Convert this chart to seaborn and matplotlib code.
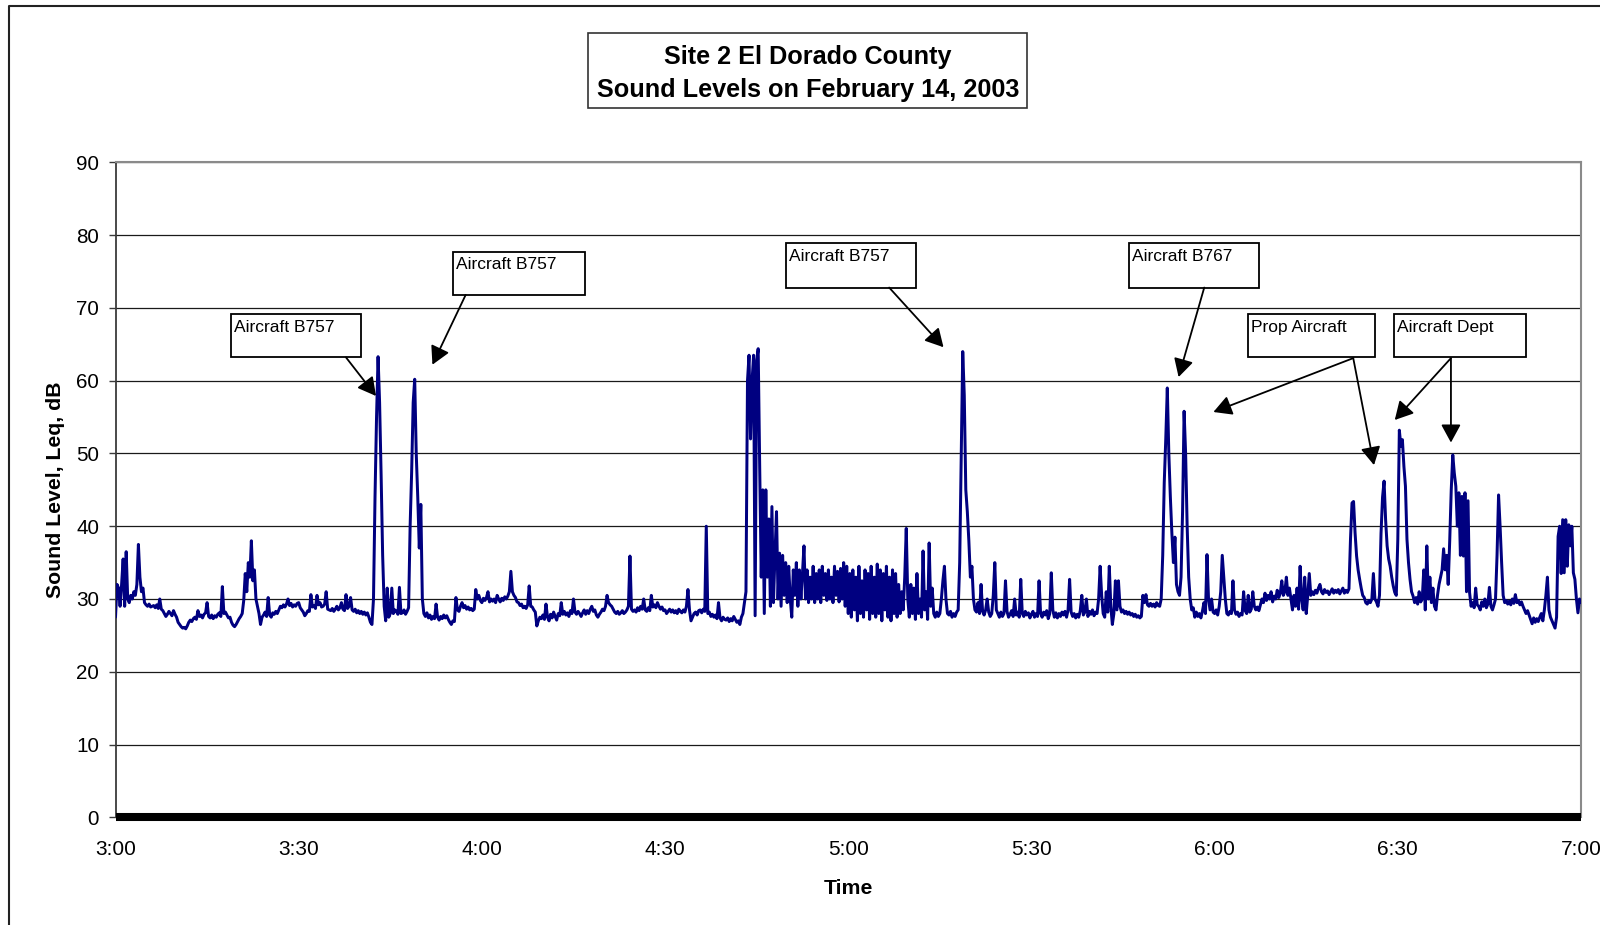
import numpy as np
import pandas as pd
import matplotlib
matplotlib.use("Agg")
import matplotlib.pyplot as plt
import matplotlib.transforms as mtransforms
from matplotlib.patches import Rectangle, FancyArrowPatch
from matplotlib.lines import Line2D
import seaborn as sns

# ---------------- data (15-second readings, dB) ----------------
step_minutes = 0.25

level_3h = [  # 3:00 - 3:59:45
    27.5, 32.0, 31.5, 29.0, 32.0, 35.5, 29.0, 36.5, 30.0, 29.5, 30.5, 30.0, 31.0, 30.5, 32.0, 37.5, 33.0, 31.0, 31.5, 29.5,
    29.2, 29.0, 29.3, 28.9, 29.0, 29.1, 28.8, 29.2, 28.7, 30.0, 28.6, 28.4, 28.0, 27.6, 27.9, 28.3, 28.0, 27.7, 28.4, 27.9,
    27.5, 26.8, 26.5, 26.2, 26.0, 26.1, 25.9, 26.3, 26.8, 27.1, 26.9, 27.3, 27.5, 27.2, 28.4, 27.6, 27.8, 27.4, 27.9, 28.1,
    29.5, 27.6, 27.4, 27.8, 27.3, 27.7, 27.5, 27.9, 28.1, 27.6, 31.7, 28.0, 28.2, 27.8, 27.4, 27.5, 26.8, 26.4, 26.2, 26.5,
    26.9, 27.3, 27.6, 28.0, 29.8, 33.5, 31.0, 35.0, 33.0, 38.0, 32.5, 34.0, 30.0, 29.0, 28.0, 26.5, 27.5, 27.8, 28.2, 27.6,
    30.2, 27.8, 27.5, 28.1, 27.9, 28.3, 28.0, 28.5, 29.0, 28.8, 29.2, 28.9, 29.3, 30.0, 29.1, 29.4, 28.9, 29.2, 29.0, 29.4,
    29.5, 28.8, 28.5, 28.2, 27.7, 28.0, 28.4, 28.3, 30.6, 28.9, 29.1, 28.7, 30.5, 29.2, 29.5, 28.9, 29.0, 29.3, 31.0, 28.6,
    28.5, 28.4, 28.7, 28.3, 28.6, 29.0, 28.5, 28.8, 29.5, 28.6, 28.4, 30.6, 28.7, 29.0, 30.2, 28.5, 28.3, 28.6, 28.1, 28.4,
    28.0, 28.3, 27.9, 28.2, 27.8, 28.1, 27.5, 26.8, 26.5, 30.0, 44.0, 55.0, 63.3, 57.0, 47.0, 36.0, 29.0, 27.0, 31.5, 27.5,
    28.0, 31.5, 28.0, 28.5, 28.3, 27.9, 31.6, 28.0, 28.1, 28.5, 27.9, 28.3, 28.8, 40.0, 47.5, 57.0, 60.2, 50.0, 44.0, 37.0,
    43.0, 30.0, 28.0, 27.6, 28.1, 27.4, 27.8, 27.2, 27.6, 27.3, 29.3, 27.5, 27.1, 27.6, 27.3, 27.8, 27.4, 27.7, 27.2, 26.8,
    26.5, 27.0, 26.9, 30.2, 28.5, 28.3, 29.0, 29.5, 28.8, 29.1, 28.6, 28.9, 28.5, 28.7, 28.4, 28.6, 31.3, 30.0, 30.5, 29.8,
]
level_4h = [  # 4:00 - 4:59:45
    29.5, 30.1, 29.8, 30.2, 31.0, 29.6, 30.0, 29.7, 30.0, 29.5, 30.5, 30.0, 29.6, 30.1, 29.8, 30.3, 30.0, 30.4, 31.0, 33.8,
    31.0, 30.5, 30.2, 29.6, 29.5, 29.1, 29.3, 28.8, 29.0, 28.7, 29.2, 31.8, 29.0, 28.9, 28.5, 28.2, 26.3, 27.0, 27.5, 27.3,
    27.8, 27.2, 29.3, 27.5, 27.0, 27.9, 27.4, 28.2, 27.6, 27.1, 28.0, 27.7, 29.5, 27.9, 28.3, 27.8, 28.1, 27.6, 28.4, 28.0,
    30.0, 28.2, 27.9, 28.3, 28.0, 27.6, 28.1, 28.5, 27.9, 28.4, 28.0, 28.6, 29.0, 28.3, 28.5, 27.8, 27.5, 27.9, 28.2, 28.6,
    28.4, 29.0, 30.5, 29.5, 29.2, 29.0, 28.6, 28.2, 28.0, 28.3, 27.9, 28.1, 28.4, 28.0, 28.2, 28.5, 29.0, 35.9, 28.6, 28.3,
    28.5, 28.2, 28.8, 28.4, 29.0, 28.6, 30.0, 28.5, 28.3, 28.8, 28.4, 30.5, 28.9, 29.2, 28.8, 29.5, 29.0, 28.6, 28.9, 28.4,
    28.5, 28.0, 28.3, 28.6, 28.2, 28.5, 28.1, 28.4, 28.0, 28.6, 28.3, 28.1, 28.5, 28.2, 29.0, 31.3, 28.5, 27.0, 27.5, 28.0,
    28.2, 27.8, 28.4, 28.5, 28.1, 28.6, 28.3, 40.0, 28.0, 28.2, 27.6, 27.9, 27.5, 27.8, 27.3, 29.5, 27.4, 27.0, 27.5, 27.2,
    27.1, 27.4, 26.9, 27.3, 27.0, 27.6, 27.2, 26.8, 27.0, 26.5, 27.5, 28.0, 29.5, 31.0, 60.0, 63.5, 52.0, 60.0, 63.5, 27.7,
    62.8, 64.4, 48.0, 33.0, 45.0, 28.0, 45.0, 33.0, 41.0, 29.0, 42.7, 29.5, 36.0, 42.0, 30.0, 36.3, 29.0, 36.0, 30.5, 35.0,
    29.5, 34.5, 30.0, 27.5, 34.0, 30.5, 35.0, 29.0, 34.0, 30.0, 33.5, 37.3, 30.0, 34.0, 29.5, 33.0, 30.0, 34.5, 29.5, 33.5,
    30.0, 34.0, 29.5, 34.5, 30.5, 33.5, 29.8, 34.0, 30.0, 33.0, 29.5, 34.5, 30.5, 33.8, 29.6, 34.2, 30.0, 35.0, 29.0, 34.5,
]
level_5h = [  # 5:00 - 5:59:45
    28.0, 33.5, 27.5, 34.0, 28.5, 33.0, 27.0, 34.5, 28.0, 32.5, 27.5, 34.0, 28.5, 33.5, 27.2, 34.5, 28.0, 33.0, 27.5, 34.8,
    28.0, 34.0, 27.0, 33.5, 28.5, 34.5, 27.5, 33.0, 27.0, 34.0, 28.0, 33.5, 27.5, 32.0, 28.0, 31.0, 28.5, 33.0, 39.7, 30.0,
    27.5, 32.0, 28.0, 31.5, 27.2, 33.5, 28.0, 30.0, 27.5, 36.6, 28.5, 31.0, 27.2, 37.7, 29.0, 31.5, 28.0, 27.5, 28.2, 27.6,
    28.0, 30.0, 32.5, 34.5, 30.0, 28.0, 27.8, 28.3, 27.5, 28.0, 27.6, 28.2, 28.5, 35.0, 50.0, 64.0, 58.0, 45.0, 42.0, 38.0,
    33.0, 34.5, 30.0, 28.5, 28.2, 29.5, 28.0, 32.0, 28.3, 27.8, 28.5, 30.0, 28.2, 27.6, 28.0, 30.5, 35.0, 28.5, 28.0, 27.5,
    28.2, 27.6, 28.0, 32.5, 28.3, 27.5, 27.9, 28.4, 27.6, 30.0, 27.8, 28.2, 27.5, 32.7, 28.0, 27.6, 28.3, 27.8, 28.1, 27.4,
    27.9, 28.3, 27.5, 28.0, 27.6, 32.5, 28.0, 27.5, 28.2, 27.8, 28.4, 27.3, 28.0, 33.6, 28.5, 27.5, 28.1, 27.4, 28.0, 27.6,
    28.2, 27.8, 28.3, 27.5, 28.5, 32.7, 28.2, 27.6, 28.0, 27.4, 27.9, 27.5, 28.4, 30.5, 27.8, 28.2, 30.0, 27.6, 28.3, 27.9,
    28.5, 27.7, 28.2, 28.0, 30.0, 34.5, 30.5, 28.0, 27.5, 31.0, 28.2, 34.5, 29.0, 26.5, 28.0, 32.5, 28.5, 32.5, 29.0, 28.2,
    28.5, 28.0, 28.3, 27.9, 28.2, 27.8, 28.0, 27.6, 27.9, 27.5, 27.7, 27.4, 27.6, 30.5, 29.5, 30.6, 29.2, 29.0, 29.4, 29.0,
    29.3, 28.9, 29.5, 29.1, 29.0, 30.0, 36.0, 46.0, 52.0, 59.0, 50.0, 44.0, 39.0, 35.0, 38.5, 32.0, 31.0, 30.5, 33.0, 42.0,
    55.8, 50.0, 40.0, 33.0, 30.0, 28.5, 28.8, 27.5, 28.2, 27.6, 28.0, 27.4, 28.3, 29.5, 28.0, 36.1, 30.0, 28.5, 30.0, 28.2,
]
level_6h = [  # 6:00 - 6:59:45
    28.0, 28.5, 27.8, 29.0, 31.0, 36.0, 33.0, 30.0, 28.0, 27.8, 28.3, 28.0, 32.5, 28.5, 27.9, 28.2, 27.6, 28.0, 27.8, 31.0,
    28.4, 28.0, 30.5, 28.2, 28.6, 31.0, 29.0, 28.5, 28.9, 28.4, 29.2, 30.0, 29.5, 30.8, 29.8, 30.5, 30.0, 31.0, 29.6, 30.4,
    30.0, 31.2, 30.2, 30.8, 32.5, 30.5, 31.0, 33.0, 30.5, 31.5, 30.0, 28.5, 30.5, 29.0, 31.5, 28.6, 34.5, 30.0, 28.5, 33.0,
    28.0, 30.5, 33.5, 30.5, 31.0, 30.6, 31.2, 30.8, 31.5, 32.0, 31.0, 30.7, 31.3, 30.9, 31.1, 30.6, 31.0, 31.4, 30.8, 31.2,
    30.9, 31.3, 30.7, 31.1, 31.5, 30.8, 31.2, 30.9, 31.4, 38.2, 43.2, 43.4, 39.1, 35.9, 34.0, 32.7, 31.5, 30.5, 30.2, 29.5,
    29.3, 29.8, 29.5, 30.0, 33.5, 30.0, 29.6, 29.0, 30.5, 39.0, 44.0, 46.2, 40.9, 37.3, 35.5, 34.5, 33.0, 31.8, 30.9, 30.5,
    38.2, 53.2, 51.0, 51.9, 48.2, 45.5, 38.2, 35.0, 32.7, 31.0, 30.4, 29.5, 30.2, 29.3, 31.0, 29.6, 30.0, 34.0, 28.5, 37.3,
    30.0, 33.0, 29.5, 31.5, 29.0, 28.5, 30.5, 32.0, 33.0, 34.0, 36.9, 34.0, 36.0, 32.0, 38.0, 45.0, 49.8, 47.3, 45.5, 40.0,
    44.6, 36.0, 44.1, 35.9, 44.6, 31.0, 43.5, 30.9, 29.0, 29.5, 28.8, 31.5, 29.2, 29.0, 28.5, 29.6, 29.0, 30.0, 28.8, 29.3,
    31.6, 29.0, 28.5, 29.2, 30.0, 36.0, 44.3, 40.0, 35.0, 30.5, 29.5, 29.8, 29.3, 29.7, 29.2, 30.0, 29.4, 30.6, 29.5, 29.8,
    29.2, 29.6, 29.0, 28.5, 28.0, 28.4, 27.8, 27.2, 26.6, 27.4, 26.8, 27.3, 26.9, 27.5, 28.0, 27.0, 28.5, 30.5, 33.0, 28.5,
    27.5, 27.0, 26.5, 26.0, 27.5, 38.6, 40.0, 33.5, 40.9, 33.6, 40.9, 34.5, 40.2, 37.3, 40.0, 33.6, 32.7, 30.0, 28.1, 30.0,
]
level_7h = [29.5]  # 7:00

time_ticks = [0, 30, 60, 90, 120, 150, 180, 210, 240]
time_labels = ["3:00", "3:30", "4:00", "4:30", "5:00", "5:30", "6:00", "6:30", "7:00"]
level_ticks = [0, 10, 20, 30, 40, 50, 60, 70, 80, 90]

title_lines = ["Site 2 El Dorado County", "Sound Levels on February 14, 2003"]

# callouts: label, box (min-left, min-right, dB-bottom, dB-top), arrows tail->tip (minutes, dB)
callout_labels = ["Aircraft B757", "Aircraft B757", "Aircraft B757",
                  "Aircraft B767", "Prop Aircraft", "Aircraft Dept"]
callout_boxes = [(18.9, 40.2, 63.2, 69.1), (55.3, 76.9, 71.8, 77.7),
                 (109.8, 131.1, 72.8, 78.9), (166.0, 187.2, 72.8, 78.9),
                 (185.4, 206.2, 63.2, 69.1), (209.4, 231.0, 63.2, 69.1)]
callout_arrows = [((37.75, 63.2), (42.66, 57.9)),
                  ((57.35, 71.8), (51.9, 62.2)),
                  ((126.7, 72.8), (135.6, 64.6)),
                  ((178.3, 72.8), (174.1, 60.5)),
                  ((202.7, 63.1), (179.8, 55.7)),
                  ((202.7, 63.1), (206.1, 48.4)),
                  ((218.7, 63.1), (209.5, 54.6)),
                  ((218.7, 63.1), (218.7, 51.5))]

# ---------------- figure ----------------
sns.set_theme(style="white")
plt.rcParams["font.family"] = ["Liberation Sans", "DejaVu Sans"]

W, H = 1600, 925
fig = plt.figure(figsize=(W / 100, H / 100), dpi=100)
fig.patch.set_facecolor("white")
px = mtransforms.Affine2D().scale(1 / W, -1 / H).translate(0, 1) + fig.transFigure

ax_left, ax_right, ax_top, ax_bottom = 115.5, 1581.0, 162.4, 817.3
ax = fig.add_axes([ax_left / W, 1 - ax_bottom / H, (ax_right - ax_left) / W, (ax_bottom - ax_top) / H])
ax.set_facecolor("white")

level = np.array(level_3h + level_4h + level_5h + level_6h + level_7h)
minutes = np.arange(len(level)) * step_minutes
df = pd.DataFrame({"minutes": minutes, "level": level})

sns.lineplot(data=df, x="minutes", y="level", ax=ax, color="#000080",
             linewidth=2.15, estimator=None, sort=False, zorder=3)

ax.set_xlim(0, 240)
ax.set_ylim(0, 90)
ax.set_xticks(time_ticks, time_labels)
ax.set_yticks(level_ticks)
ax.yaxis.grid(True, color="#1a1a1a", linewidth=0.9)
ax.xaxis.grid(False)
ax.set_axisbelow(True)

for side in ["top", "right"]:
    ax.spines[side].set_color("#8a8a8a")
    ax.spines[side].set_linewidth(1.5)
ax.spines["left"].set_color("#3a3a3a")
ax.spines["left"].set_linewidth(1.3)
ax.spines["bottom"].set_color("black")
ax.spines["bottom"].set_linewidth(5.8)
ax.spines["bottom"].set_capstyle("butt")

ax.tick_params(axis="y", length=5.4, width=1.0, color="#3a3a3a", pad=6.5,
               labelsize=14.9, labelcolor="black", left=True)
ax.tick_params(axis="x", length=0, pad=16.5, labelsize=15, labelcolor="black")

ax.set_ylabel("Sound Level, Leq, dB", fontsize=15.3, fontweight="bold", color="black")
ax.yaxis.set_label_coords(-0.0345, 0.5)
ax.set_xlabel("Time", fontsize=15.3, fontweight="bold", color="black")
ax.xaxis.set_label_coords(0.5, -0.0935)

# callouts
text_off = mtransforms.ScaledTranslation(3 / 100, -5.5 / 100, fig.dpi_scale_trans)
for lab, (x0, x1, y0, y1) in zip(callout_labels, callout_boxes):
    ax.add_patch(Rectangle((x0, y0), x1 - x0, y1 - y0, facecolor="white",
                           edgecolor="black", linewidth=1.3, zorder=5, clip_on=False))
    ax.text(x0, y1, lab, transform=ax.transData + text_off, ha="left", va="top",
            fontsize=12.5, color="black", zorder=6)
for tail, tip in callout_arrows:
    ax.add_patch(FancyArrowPatch(tail, tip, arrowstyle="-|>,head_length=0.55,head_width=0.3",
                                 mutation_scale=20, linewidth=1.3, color="black",
                                 shrinkA=0, shrinkB=0, zorder=6, clip_on=False))

# title box
fig.patches.append(Rectangle((588, 33), 439, 75, transform=px, facecolor="white",
                             edgecolor="#333333", linewidth=1.2, zorder=1))
fig.text(808, 57, title_lines[0], transform=px, ha="center", va="center",
         fontsize=18.2, fontweight="bold", color="black", zorder=2)
fig.text(808, 89.5, title_lines[1], transform=px, ha="center", va="center",
         fontsize=18.2, fontweight="bold", color="black", zorder=2)

# outer chart border (runs off the right and bottom edges)
fig.add_artist(Line2D([9, 9, 1600], [925, 6, 6], transform=px, color="#222222", linewidth=1.5))

fig.savefig("out.png", dpi=100)
